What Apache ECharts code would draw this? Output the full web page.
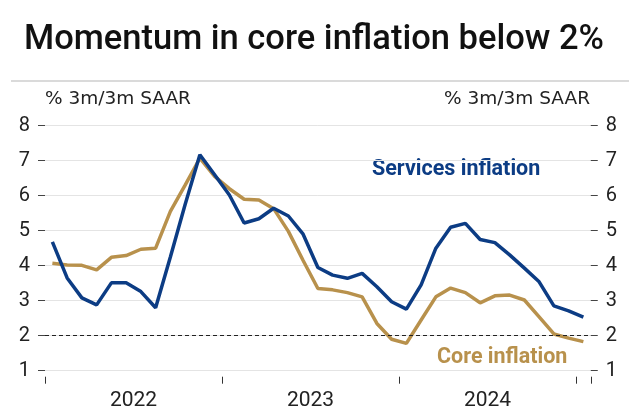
<!DOCTYPE html>
<html>
<head>
<meta charset="utf-8">
<script src="https://cdn.jsdelivr.net/npm/echarts@6/dist/echarts.min.js"></script>
<style>
html,body{margin:0;padding:0;background:#fff;}
#chart{width:640px;height:418px;}
</style>
</head>
<body>
<div id="chart"></div>
<script>
const months = ['2022-01','2022-02','2022-03','2022-04','2022-05','2022-06','2022-07','2022-08','2022-09','2022-10','2022-11','2022-12',
'2023-01','2023-02','2023-03','2023-04','2023-05','2023-06','2023-07','2023-08','2023-09','2023-10','2023-11','2023-12',
'2024-01','2024-02','2024-03','2024-04','2024-05','2024-06','2024-07','2024-08','2024-09','2024-10','2024-11','2024-12',
'2025-01'];
const services = [4.68,3.65,3.08,2.88,3.51,3.51,3.26,2.8,4.25,5.75,7.17,6.6,6.02,5.22,5.34,5.64,5.42,4.9,3.95,3.73,3.64,3.78,3.4,2.97,2.76,3.45,4.5,5.1,5.21,4.75,4.66,4.31,3.93,3.54,2.85,2.71,2.53];
const core = [4.07,4.02,4.01,3.88,4.24,4.29,4.47,4.5,5.55,6.3,7.07,6.55,6.2,5.9,5.88,5.63,4.98,4.15,3.35,3.31,3.23,3.11,2.35,1.9,1.78,2.45,3.11,3.36,3.23,2.94,3.14,3.16,3.02,2.54,2.05,1.93,1.83];
const yearLabels = {6:'2022', 18:'2023', 30:'2024'};
const yTicks = {min:1, max:8, interval:1};
const threshold = 2;

const BLUE = '#0c3c84';
const GOLD = '#b8914c';
const FONT = 'Roboto';

const chart = echarts.init(document.getElementById('chart'), null, {renderer:'canvas'});
chart.setOption({
  backgroundColor:'#fff',
  animation:false,
  title:{
    text:'Momentum in core inflation below 2%',
    left:19, top:18,
    textStyle:{fontFamily:FONT, fontSize:34.5, fontWeight:500, color:'#111'}
  },
  grid:{left:45, right:49.25, top:125.7, bottom:47.3, containLabel:false},
  xAxis:[{
    type:'category', data:months, boundaryGap:true, offset:6,
    axisLine:{show:false},
    axisTick:{show:true, length:7, interval:(i)=> i%12===0, lineStyle:{color:'#333', width:1}},
    axisLabel:{show:false},
    splitLine:{show:false}
  },{
    type:'value', min:0, max:37, interval:6, position:'bottom',
    axisLine:{show:false}, axisTick:{show:false}, splitLine:{show:false},
    axisLabel:{margin:20, fontFamily:FONT, fontSize:21, color:'#222',
      showMinLabel:true, showMaxLabel:true,
      formatter:(v)=> yearLabels[v] || ''}
  }],
  yAxis:[{
    type:'value', min:yTicks.min, max:yTicks.max, interval:yTicks.interval, position:'left',
    axisLine:{show:false},
    axisTick:{show:true, length:7, lineStyle:{color:'#444'}},
    axisLabel:{margin:15, fontFamily:FONT, fontSize:20, color:'#222'},
    splitLine:{show:true, lineStyle:{color:'#e4e4e4', width:1}}
  },{
    type:'value', min:yTicks.min, max:yTicks.max, interval:yTicks.interval, position:'right',
    axisLine:{show:false},
    axisTick:{show:true, length:7, lineStyle:{color:'#444'}},
    axisLabel:{margin:15, fontFamily:FONT, fontSize:20, color:'#222'},
    splitLine:{show:false}
  }],
  series:[{
    name:'Core inflation', type:'line', data:core, xAxisIndex:0, yAxisIndex:0,
    symbol:'none', lineStyle:{color:GOLD, width:3.5}, z:3,
    markLine:{silent:true, symbol:['none','none'], label:{show:false},
      lineStyle:{color:'#222', type:[4,3], width:1.2},
      data:[{yAxis:threshold}]}
  },{
    name:'Services inflation', type:'line', data:services, xAxisIndex:0, yAxisIndex:0,
    symbol:'none', lineStyle:{color:BLUE, width:3.5}, z:4
  }],
  graphic:[
    {type:'line', shape:{x1:11, y1:81, x2:629, y2:81}, style:{stroke:'#b5b5b5', lineWidth:1}},
    {type:'text', left:45, top:90, style:{text:'% 3m/3m SAAR', font:'18.5px "DejaVu Sans"', fill:'#222'}},
    {type:'text', right:50, top:90, style:{text:'% 3m/3m SAAR', font:'18.5px "DejaVu Sans"', fill:'#222'}},
    {type:'text', left:372, top:159, style:{text:'Services inflation', font:'bold 21.5px Roboto', fill:BLUE}},
    {type:'text', left:437, top:347, style:{text:'Core inflation', font:'bold 21.5px Roboto', fill:GOLD}}
  ]
});
</script>
</body>
</html>
